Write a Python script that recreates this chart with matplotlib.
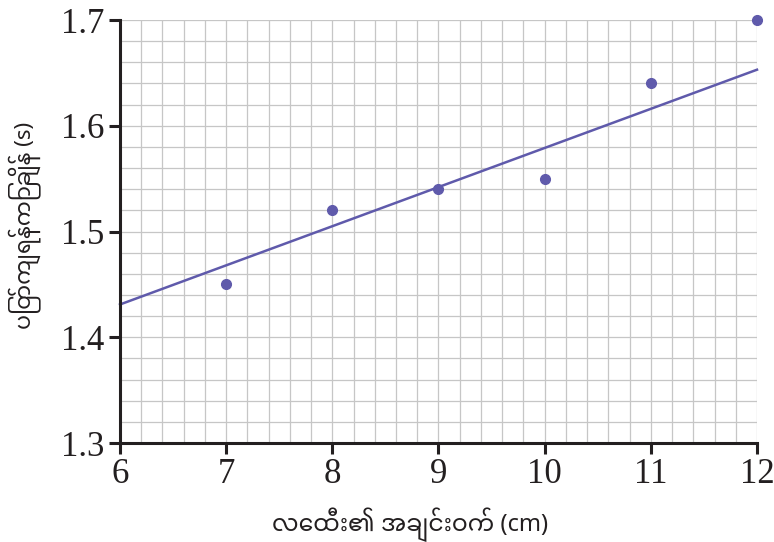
import matplotlib.pyplot as plt
import numpy as np

# Measured points
radius = [7, 8, 9, 10, 11, 12]
fall_time = [1.45, 1.52, 1.54, 1.55, 1.64, 1.70]

# Fitted line end points (as drawn)
fit_x = [6, 12]
fit_y = [1.431, 1.653]

x_label = "လေထီး၏ အချင်းဝက် (cm)"
y_label = "ပြတ်ကျရန်ကြာချိန် (s)"

plt.rcParams['font.family'] = ['Liberation Serif']
myanmar_fonts = ['Noto Sans Myanmar', 'Padauk', 'Myanmar Text', 'DejaVu Sans']
ink = '#231f20'
purple = '#5f5aab'

fig = plt.figure(figsize=(7.74, 5.42), dpi=100)
ax = fig.add_axes([120 / 774, 1 - 443 / 542, 637 / 774, 423 / 542])

ax.set_xlim(6, 12)
ax.set_ylim(1.3, 1.7)
ax.set_xticks(np.arange(6, 12.01, 1))
ax.set_yticks(np.round(np.arange(1.3, 1.701, 0.1), 1))
ax.set_xticks(np.arange(6, 12.01, 0.2), minor=True)
ax.set_yticks(np.arange(1.3, 1.701, 0.02), minor=True)
ax.grid(which='both', color='#c6c6c6', linewidth=0.9)
ax.set_axisbelow(True)

ax.plot(fit_x, fit_y, color=purple, linewidth=1.8, clip_on=False)
ax.plot(radius, fall_time, 'o', color=purple, markersize=7, clip_on=False)

for s in ['top', 'right']:
    ax.spines[s].set_visible(False)
for s in ['left', 'bottom']:
    ax.spines[s].set_linewidth(2.2)
    ax.spines[s].set_color(ink)

ax.tick_params(which='major', length=8, width=2.2, color=ink, labelcolor=ink,
               labelsize=25, pad=3)
ax.tick_params(which='minor', length=0)
ax.set_xticklabels([str(int(v)) for v in ax.get_xticks()])
ax.set_yticklabels([f'{v:.1f}' for v in ax.get_yticks()])

ax.set_xlabel(x_label, family=myanmar_fonts, fontsize=17, color=ink)
ax.set_ylabel(y_label, family=myanmar_fonts, fontsize=16, color=ink)
ax.xaxis.set_label_coords(0.455, -0.152)
ax.yaxis.set_label_coords(-0.124, 0.515)

fig.savefig('out.png', dpi=100)
